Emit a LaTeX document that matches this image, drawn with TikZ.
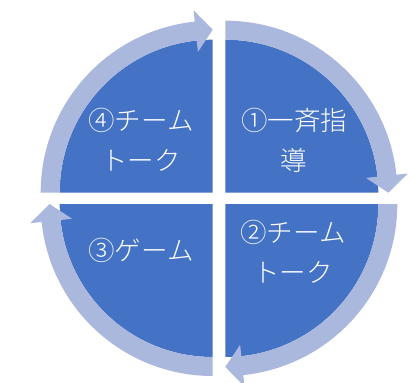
\documentclass[tikz,border=0pt]{standalone}
\usepackage{fontspec}
\newfontfamily\jpfont{Noto Sans CJK JP Light}
\definecolor{quadblue}{RGB}{68,114,196}
\definecolor{bandblue}{RGB}{170,184,222}
\tikzset{
  quad/.style={fill=quadblue},
  band/.style={fill=bandblue},
  lbl/.style={text=white,font=\jpfont\fontsize{26.5pt}{40pt}\selectfont,align=center,inner sep=0pt}
}
\begin{document}
\begin{tikzpicture}[x=1pt,y=1pt]
\useasboundingbox (0,0) rectangle (414,-382);
\fill[white] (0,0) rectangle (414,-382);
% quadrants
\fill[quad,shift={(212.7,-192.7)}] (0,0) -- (180:153pt) arc[start angle=180,end angle=90,radius=153pt] -- cycle;
\fill[quad,shift={(225.3,-192.7)}] (0,0) -- (90:153pt) arc[start angle=90,end angle=0,radius=153pt] -- cycle;
\fill[quad,shift={(225.3,-204)}] (0,0) -- (0:153pt) arc[start angle=0,end angle=-90,radius=153pt] -- cycle;
\fill[quad,shift={(212.7,-204)}] (0,0) -- (-90:153pt) arc[start angle=-90,end angle=-180,radius=153pt] -- cycle;
% arrows
\fill[band,shift={(212.7,-192.7)}] (180:172pt) arc[start angle=180,end angle=96,radius=172pt] -- (96:183.5pt) -- (90:163pt) -- (96:141.5pt) -- (96:153pt) arc[start angle=96,end angle=180,radius=153pt] -- cycle;
\fill[band,shift={(225.3,-192.7)}] (90:172pt) arc[start angle=90,end angle=6,radius=172pt] -- (6:183.5pt) -- (0:163pt) -- (6:141.5pt) -- (6:153pt) arc[start angle=6,end angle=90,radius=153pt] -- cycle;
\fill[band,shift={(225.3,-204)}] (0:172pt) arc[start angle=0,end angle=-84,radius=172pt] -- (-84:183.5pt) -- (-90:163pt) -- (-84:141.5pt) -- (-84:153pt) arc[start angle=-84,end angle=0,radius=153pt] -- cycle;
\fill[band,shift={(212.7,-204)}] (-90:172pt) arc[start angle=-90,end angle=-174,radius=172pt] -- (-174:183.5pt) -- (-180:163pt) -- (-174:141.5pt) -- (-174:153pt) arc[start angle=-174,end angle=-90,radius=153pt] -- cycle;
% labels
\node[lbl] (t4) at (141,-140) {④チーム\\トーク};
\node[lbl] (t1) at (294,-140) {①一斉指\\導};
\node[lbl] (t2) at (293,-252) {②チーム\\トーク};
\node[lbl] (t3) at (141,-250) {③ゲーム};
\end{tikzpicture}
\end{document}
